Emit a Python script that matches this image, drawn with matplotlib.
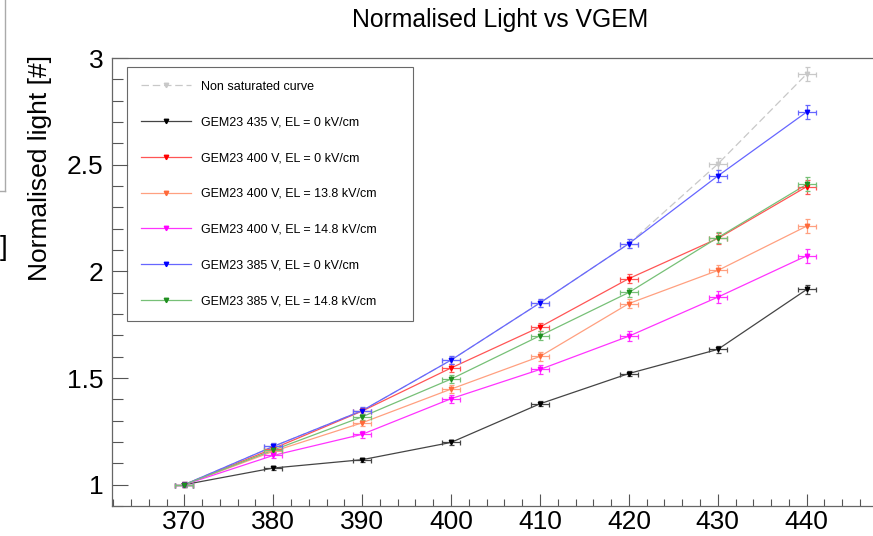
import matplotlib
matplotlib.use("Agg")
import matplotlib.pyplot as plt
from matplotlib.ticker import MultipleLocator
from matplotlib.lines import Line2D

plt.rcParams['font.family'] = ['Liberation Sans', 'DejaVu Sans']

vgem = [370, 380, 390, 400, 410, 420, 430, 440]

non_sat = [1.0, 1.179, 1.347, 1.584, 1.852, 2.130, 2.503, 2.925]
gem435_el0 = [1.0, 1.078, 1.117, 1.198, 1.379, 1.521, 1.634, 1.915]
gem400_el0 = [1.0, 1.169, 1.345, 1.547, 1.739, 1.966, 2.154, 2.397]
gem400_el138 = [1.0, 1.156, 1.290, 1.448, 1.601, 1.849, 2.004, 2.212]
gem400_el148 = [1.0, 1.137, 1.236, 1.403, 1.540, 1.696, 1.879, 2.073]
gem385_el0 = [1.0, 1.179, 1.347, 1.584, 1.852, 2.130, 2.447, 2.747]
gem385_el148 = [1.0, 1.162, 1.318, 1.495, 1.698, 1.901, 2.158, 2.408]

x_err = [1, 1, 1, 1, 1, 1, 1, 1]
y_err = [0.012, 0.014, 0.015, 0.018, 0.02, 0.022, 0.027, 0.033]
y_err_black = [0.008, 0.009, 0.009, 0.01, 0.012, 0.012, 0.016, 0.02]

labels = ["Non saturated curve",
          "GEM23 435 V, EL = 0 kV/cm",
          "GEM23 400 V, EL = 0 kV/cm",
          "GEM23 400 V, EL = 13.8 kV/cm",
          "GEM23 400 V, EL = 14.8 kV/cm",
          "GEM23 385 V, EL = 0 kV/cm",
          "GEM23 385 V, EL = 14.8 kV/cm"]

fig = plt.figure(figsize=(8.73, 5.36), dpi=100)
ax = fig.add_axes([112/873, 30/536, 767/873, 448/536])

series = [
    (non_sat, y_err, '#c8c8c8', '#c8c8c8', (0, (6, 3))),
    (gem435_el0, y_err_black, '#444444', 'black', '-'),
    (gem400_el0, y_err, '#ff5555', '#ff0000', '-'),
    (gem400_el138, y_err, '#ffa080', '#ff6a3a', '-'),
    (gem400_el148, y_err, '#ff33ff', '#ff00ff', '-'),
    (gem385_el0, y_err, '#6666ff', '#0000ff', '-'),
    (gem385_el148, y_err, '#77c077', '#1f8f1f', '-'),
]

handles = []
for vals, ye, lc, mc, ls in series:
    ax.plot(vgem, vals, color=lc, lw=0.9, ls=ls, zorder=2)
    ax.errorbar(vgem, vals, xerr=x_err, yerr=ye, fmt='none', ecolor=lc,
                elinewidth=0.9, capsize=1.8, capthick=0.9, zorder=3)
    ax.plot(vgem, vals, ls='none', marker='v', ms=3.2, color=mc, zorder=4)
    handles.append(Line2D([], [], color=lc, lw=0.9, ls=ls, marker='v',
                          ms=3.2, mfc=mc, mec=mc))

ax.set_xlim(361.87, 448.13)
ax.set_ylim(0.9, 3.0)

ax.xaxis.set_major_locator(MultipleLocator(10))
ax.xaxis.set_minor_locator(MultipleLocator(2))
ax.yaxis.set_minor_locator(MultipleLocator(0.1))
ax.set_yticks([1, 1.5, 2, 2.5, 3])
ax.set_yticklabels(["1", "1.5", "2", "2.5", "3"])

ax.tick_params(axis='x', which='major', direction='in', length=9, width=0.8,
               color='#555555', labelsize=19, pad=3, top=False)
ax.tick_params(axis='x', which='minor', direction='in', length=4.8, width=0.8,
               color='#555555', top=False)
ax.tick_params(axis='y', which='major', direction='in', length=11.5, width=0.8,
               color='#555555', labelsize=19, pad=6, right=False)
ax.tick_params(axis='y', which='minor', direction='in', length=8, width=0.8,
               color='#555555', right=False)

for s in ['left', 'top', 'bottom']:
    ax.spines[s].set_color('#666666')
    ax.spines[s].set_linewidth(0.9)
ax.spines['right'].set_visible(False)

leg = ax.legend(handles, labels, loc='upper left',
                bbox_to_anchor=(15/767, 439/448, 286/767, 0.0), mode='expand',
                fontsize=9, frameon=True, fancybox=False, edgecolor='#444444',
                handlelength=4.0, handletextpad=0.8, labelspacing=1.9,
                borderpad=1.1, borderaxespad=0)
leg.get_frame().set_linewidth(0.8)

fig.text(500/873, 1 - 20/536, "Normalised Light vs VGEM", ha='center', va='center',
         fontsize=17.8)
fig.text(40/873, 1 - 168/536, "Normalised light [#]", ha='center', va='center',
         rotation=90, fontsize=19)

# edge of a neighbouring canvas visible on the left
fig.add_artist(Line2D([5/873, 5/873], [1, 1 - 191/536], color='#aaaaaa', lw=1))
fig.add_artist(Line2D([0, 5/873], [1 - 191/536, 1 - 191/536], color='#aaaaaa', lw=1))
fig.text(0, 1 - 248/536, "]", ha='left', va='center', fontsize=20)

fig.savefig("out.png", dpi=100)
